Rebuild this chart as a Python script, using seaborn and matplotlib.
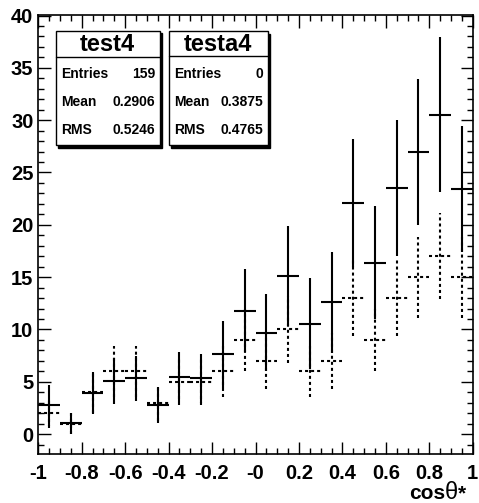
import numpy as np
import pandas as pd
import matplotlib
matplotlib.use("Agg")
import matplotlib.pyplot as plt
from matplotlib.ticker import MultipleLocator
from matplotlib.patches import Rectangle
import seaborn as sns

# bins: 20 bins between -1 and 1
bin_centers = [-0.95, -0.85, -0.75, -0.65, -0.55, -0.45, -0.35, -0.25, -0.15, -0.05,
               0.05, 0.15, 0.25, 0.35, 0.45, 0.55, 0.65, 0.75, 0.85, 0.95]
bin_half = 0.05

# solid histogram (content + error)
solid_vals = [2.74, 1.05, 3.89, 5.06, 5.32, 2.77, 5.47, 5.32, 7.64, 11.8,
              9.71, 15.09, 10.57, 12.58, 22.09, 16.36, 23.52, 26.96, 30.53, 23.4]
solid_errs = [1.95, 1.0, 2.0, 2.2, 2.13, 1.7, 2.4, 2.3, 3.2, 4.0,
              3.7, 4.8, 4.35, 4.8, 6.15, 5.4, 6.5, 7.0, 7.4, 6.0]

# dashed histogram (content + error)
dashed_vals = [2, 1, 4, 6, 6, 3, 5, 5, 6, 9, 7, 10, 6, 7, 13, 9, 13, 15, 17, 15]
dashed_errs = [1.41, 1.0, 2.0, 2.45, 2.45, 1.73, 2.24, 2.24, 2.45, 3.0,
               2.65, 3.16, 2.45, 2.65, 3.61, 3.0, 3.61, 3.87, 4.12, 3.87]

xtick_pos = [-1, -0.8, -0.6, -0.4, -0.2, 0, 0.2, 0.4, 0.6, 0.8, 1]
xtick_labels = ["-1", "-0.8", "-0.6", "-0.4", "-0.2", "-0", "0.2", "0.4", "0.6", "0.8", "1"]
ytick_pos = [0, 5, 10, 15, 20, 25, 30, 35, 40]

# stats boxes
box_names = ["test4", "testa4"]
box_entries = ["159", "0"]
box_means = ["0.2906", "0.3875"]
box_rms = ["0.5246", "0.4765"]

df = pd.DataFrame({"x": bin_centers, "solid": solid_vals, "solid_err": solid_errs,
                   "dashed": dashed_vals, "dashed_err": dashed_errs})

sns.set_theme(style="ticks")
plt.rcParams['font.family'] = ['Liberation Sans', 'DejaVu Sans']
plt.rcParams['font.weight'] = 'bold'
plt.rcParams.update({'text.color': 'black', 'axes.labelcolor': 'black',
                     'xtick.color': 'black', 'ytick.color': 'black',
                     'axes.edgecolor': 'black'})

W, H = 479, 503
fig = plt.figure(figsize=(W / 100, H / 100), dpi=100)
ax = fig.add_axes([38.3 / W, 1 - 454 / H, (472.7 - 38.3) / W, (454 - 15) / H])

# dashed first, solid drawn on top
eb = ax.errorbar(df["x"], df["dashed"], xerr=bin_half, yerr=df["dashed_err"],
                 fmt='none', ecolor='black', elinewidth=1.5, capsize=0)
for lc in eb[2]:
    lc.set_linestyle((0, (1.45, 1.45)))
ax.errorbar(df["x"], df["solid"], xerr=bin_half, yerr=df["solid_err"],
            fmt='none', ecolor='black', elinewidth=1.5, capsize=0)

ax.set_xlim(-1, 1)
ax.set_ylim(-1.9, 40.05)
ax.set_xticks(xtick_pos)
ax.set_xticklabels(xtick_labels)
ax.set_yticks(ytick_pos)
ax.xaxis.set_minor_locator(MultipleLocator(0.05))
ax.yaxis.set_minor_locator(MultipleLocator(1))
ax.tick_params(which='both', direction='in', top=True, right=True, color='black',
               width=1.0, labelsize=14.5, labelcolor='black')
ax.tick_params(which='major', length=9)
ax.tick_params(which='minor', length=4.5)
ax.tick_params(axis='x', which='major', pad=7)
ax.tick_params(axis='y', which='major', pad=3.5)
for lab in ax.get_xticklabels() + ax.get_yticklabels():
    lab.set_fontweight('bold')
for s in ax.spines.values():
    s.set_linewidth(1.2)
    s.set_color('black')

# axis title: cos (bold) theta (thin) * (bold), right aligned
renderer = fig.canvas.get_renderer()
xr, ybase = 466, 499
parts = [("*", 'bold', 15), ("θ", 'normal', 17), ("cos", 'bold', 15)]
for txt, wt, fs in parts:
    t = fig.text(xr / W, 1 - ybase / H, txt, ha='right', va='baseline',
                 fontsize=fs, fontweight=wt, color='black')
    bb = t.get_window_extent(renderer)
    xr = bb.x0


def px(x, y):
    return x / W, 1 - y / H


def stats_box(x0, y0, x1, y1, sep, name, entries, mean, rms):
    # shadow
    fig.patches.append(Rectangle(px(x0 + 2.5, y1 + 2.5), (x1 - x0) / W, (y1 - y0) / H,
                                 transform=fig.transFigure, facecolor='black',
                                 edgecolor='black', zorder=5))
    fig.patches.append(Rectangle(px(x0, y1), (x1 - x0) / W, (y1 - y0) / H,
                                 transform=fig.transFigure, facecolor='white',
                                 edgecolor='black', linewidth=1.0, zorder=6))
    fig.lines.append(plt.Line2D([x0 / W, x1 / W], [1 - sep / H, 1 - sep / H],
                                transform=fig.transFigure, color='black', lw=1.0, zorder=7))
    fig.text(*px((x0 + x1) / 2, (y0 + sep) / 2 + 1), name, ha='center', va='center',
             fontsize=17, fontweight='bold', zorder=8)
    rows = [("Entries", entries, 73.5), ("Mean", mean, 101.7), ("RMS", rms, 129.5)]
    for lab, val, yy in rows:
        fig.text(*px(x0 + 5.5, yy), lab, ha='left', va='center', fontsize=10,
                 fontweight='bold', zorder=8)
        fig.text(*px(x1 - 4.5, yy), val, ha='right', va='center', fontsize=10,
                 fontweight='bold', zorder=8)


stats_box(55.5, 30.5, 159.5, 145, 56.5, box_names[0], box_entries[0], box_means[0], box_rms[0])
stats_box(168.5, 31.5, 267.5, 145, 55.5, box_names[1], box_entries[1], box_means[1], box_rms[1])

fig.savefig("out.png", dpi=100)
